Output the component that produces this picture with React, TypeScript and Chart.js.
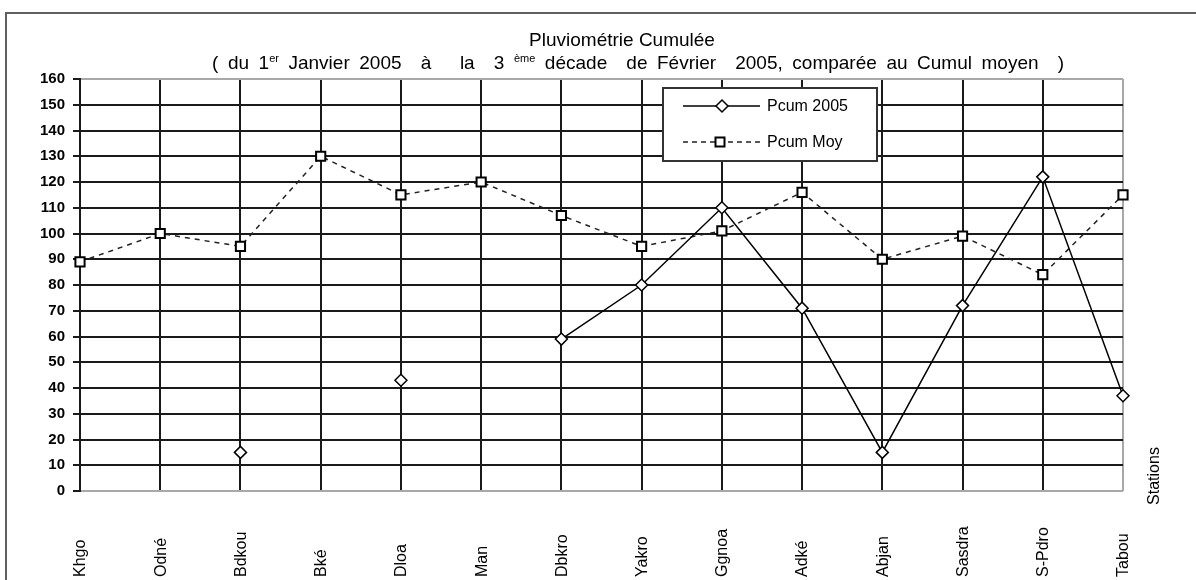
import React, { useEffect, useRef } from "react";
import { Chart, registerables } from "chart.js";

Chart.register(...registerables);

const stations = ["Khgo", "Odné", "Bdkou", "Bké", "Dloa", "Man", "Dbkro", "Yakro", "Ggnoa", "Adké", "Abjan", "Sasdra", "S-Pdro", "Tabou"];
const pcum2005: (number | null)[] = [null, null, 15, null, 43, null, 59, 80, 110, 71, 15, 72, 122, 37];
const pcumMoy: number[] = [89, 100, 95, 130, 115, 120, 107, 95, 101, 116, 90, 99, 84, 115];
const seriesLabels = ["Pcum 2005", "Pcum Moy"];
const yMin = 0;
const yMax = 160;
const yStep = 10;
const titleText = "Pluviométrie Cumulée";
const subtitleParts = [
  { t: "( du 1", sup: false },
  { t: "er", sup: true },
  { t: " Janvier 2005  à   la  3 ", sup: false },
  { t: "ème", sup: true },
  { t: " décade  de Février  2005, comparée au Cumul moyen  )", sup: false },
];
const xAxisTitle = "Stations";

const FONT = "'Liberation Sans', Arial, sans-serif";
const GRID_DARK = "#1a1a1a";
const GRID_EDGE = "#a8a8a8";

function drawDiamond(ctx: CanvasRenderingContext2D, x: number, y: number, r: number) {
  ctx.beginPath();
  ctx.moveTo(x - r, y);
  ctx.lineTo(x, y - r);
  ctx.lineTo(x + r, y);
  ctx.lineTo(x, y + r);
  ctx.closePath();
  ctx.fillStyle = "#fff";
  ctx.fill();
  ctx.lineWidth = 1.5;
  ctx.strokeStyle = "#000";
  ctx.stroke();
}

function drawSquare(ctx: CanvasRenderingContext2D, x: number, y: number, h: number) {
  ctx.fillStyle = "#fff";
  ctx.fillRect(x - h, y - h, 2 * h, 2 * h);
  ctx.lineWidth = 2;
  ctx.strokeStyle = "#000";
  ctx.strokeRect(x - h, y - h, 2 * h, 2 * h);
}

const decorPlugin = {
  id: "decor",
  beforeDraw(chart: any) {
    const ctx: CanvasRenderingContext2D = chart.ctx;
    ctx.save();
    ctx.fillStyle = "#fff";
    ctx.fillRect(0, 0, chart.width, chart.height);
    ctx.strokeStyle = "#606060";
    ctx.lineWidth = 2;
    ctx.strokeRect(6, 13, chart.width + 50, chart.height + 50);
    ctx.restore();
  },
  afterDraw(chart: any) {
    const ctx: CanvasRenderingContext2D = chart.ctx as any;
    const xs = chart.scales.x;
    ctx.save();
    ctx.fillStyle = "#000";

    // Title
    ctx.font = `19px ${FONT}`;
    ctx.textAlign = "center";
    ctx.textBaseline = "alphabetic";
    ctx.fillText(titleText, 622, 46);

    // Subtitle with superscripts, stretched over its span by word spacing
    const mainSize = 19;
    const supSize = 11;
    const startX = 212;
    const endX = 1064;
    let natural = 0;
    let spaces = 0;
    subtitleParts.forEach((p) => {
      ctx.font = `${p.sup ? supSize : mainSize}px ${FONT}`;
      natural += ctx.measureText(p.t).width;
      spaces += (p.t.match(/ /g) || []).length;
    });
    const extra = Math.max(0, (endX - startX - natural) / Math.max(1, spaces));
    let x = startX;
    ctx.textAlign = "left";
    subtitleParts.forEach((p) => {
      ctx.font = `${p.sup ? supSize : mainSize}px ${FONT}`;
      for (const ch of p.t) {
        ctx.fillText(ch, x, p.sup ? 62 : 69);
        x += ctx.measureText(ch).width + (ch === " " ? extra : 0);
      }
    });

    // X labels (rotated, bottom aligned)
    ctx.font = `16px ${FONT}`;
    ctx.textBaseline = "middle";
    stations.forEach((s, i) => {
      const px = xs.getPixelForValue(i);
      ctx.save();
      ctx.translate(px + 1, 577);
      ctx.rotate(-Math.PI / 2);
      ctx.textAlign = "left";
      ctx.fillText(s, 0, 0);
      ctx.restore();
    });

    // Axis title "Stations"
    ctx.save();
    ctx.font = `16px ${FONT}`;
    ctx.translate(1155, 476);
    ctx.rotate(-Math.PI / 2);
    ctx.textAlign = "center";
    ctx.fillText(xAxisTitle, 0, 0);
    ctx.restore();

    // Legend
    const bx = 663, by = 88, bw = 214, bh = 73;
    ctx.fillStyle = "#fff";
    ctx.fillRect(bx, by, bw, bh);
    ctx.strokeStyle = "#333";
    ctx.lineWidth = 2;
    ctx.strokeRect(bx, by, bw, bh);

    const rows = [106, 142];
    ctx.font = `16px ${FONT}`;
    ctx.textBaseline = "middle";
    ctx.textAlign = "left";
    ctx.strokeStyle = "#000";
    ctx.lineWidth = 1.5;
    ctx.setLineDash([]);
    ctx.beginPath();
    ctx.moveTo(683, rows[0]);
    ctx.lineTo(760, rows[0]);
    ctx.stroke();
    drawDiamond(ctx, 722, rows[0], 6);
    ctx.strokeStyle = "#222";
    ctx.lineWidth = 1.5;
    ctx.setLineDash([5, 4]);
    ctx.beginPath();
    ctx.moveTo(683, rows[1]);
    ctx.lineTo(760, rows[1]);
    ctx.stroke();
    ctx.setLineDash([]);
    drawSquare(ctx, 720, rows[1], 4.5);
    ctx.fillStyle = "#000";
    ctx.fillText(chart.data.datasets[0].label, 767, rows[0] + 1);
    ctx.fillText(chart.data.datasets[1].label, 767, rows[1] + 1);
    ctx.restore();
  },
};

export default function App() {
  const ref = useRef<HTMLCanvasElement>(null);
  useEffect(() => {
    if (!ref.current) return;
    const chart = new Chart(ref.current, {
      type: "line",
      data: {
        labels: stations,
        datasets: [
          {
            label: seriesLabels[0],
            data: pcum2005,
            borderColor: "#000",
            borderWidth: 1.5,
            pointStyle: "rectRot",
            pointRadius: 6,
            pointBorderWidth: 1.5,
            pointBackgroundColor: "#fff",
            pointBorderColor: "#000",
            spanGaps: false,
            clip: false as any,
            tension: 0,
          },
          {
            label: seriesLabels[1],
            data: pcumMoy,
            borderColor: "#222",
            borderWidth: 1.5,
            borderDash: [5, 5],
            pointStyle: "rect",
            pointRadius: 6.5,
            pointBorderWidth: 2,
            pointBackgroundColor: "#fff",
            pointBorderColor: "#000",
            clip: false as any,
            tension: 0,
          },
        ],
      },
      options: {
        animation: false,
        responsive: false,
        devicePixelRatio: 1,
        layout: { padding: { left: 0, top: 79, right: 73, bottom: 89 } },
        plugins: {
          legend: { display: false },
          title: { display: false },
          tooltip: { enabled: false },
        },
        scales: {
          x: {
            type: "category",
            offset: false,
            ticks: { display: false },
            grid: {
              color: (c: any) => (c.index === stations.length - 1 ? GRID_EDGE : GRID_DARK),
              lineWidth: 2,
              drawTicks: false,
            },
            border: { display: false },
            afterFit: (s: any) => {
              s.height = 0;
            },
          },
          y: {
            min: yMin,
            max: yMax,
            ticks: {
              stepSize: yStep,
              color: "#000",
              font: { family: FONT, size: 15, weight: "bold" },
              padding: 8,
            },
            grid: {
              color: (c: any) => (c.tick && (c.tick.value === yMin || c.tick.value === yMax) ? GRID_EDGE : GRID_DARK),
              lineWidth: 2,
              tickLength: 7,
              tickColor: GRID_DARK,
            },
            border: { color: GRID_DARK, width: 2 },
            afterFit: (s: any) => {
              s.width = 80;
            },
          },
        },
      },
      plugins: [decorPlugin],
    });
    return () => chart.destroy();
  }, []);
  return (
    <div style={{ position: "fixed", left: 0, top: 0 }}>
      <canvas ref={ref} width={1196} height={580} style={{ display: "block", width: 1196, height: 580 }} />
    </div>
  );
}
